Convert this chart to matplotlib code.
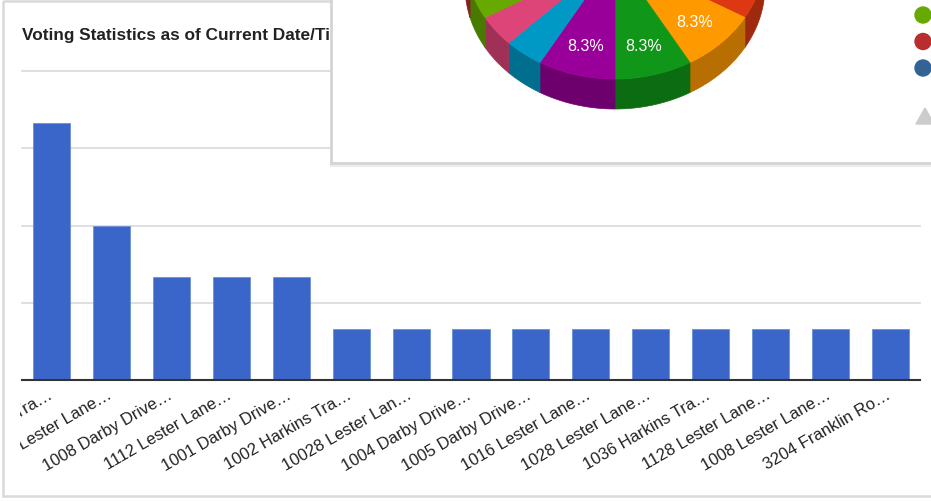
import matplotlib.pyplot as plt
import numpy as np
from matplotlib import transforms
from matplotlib.colors import to_rgb
from matplotlib.patches import Polygon, Rectangle, Circle

W, H = 931, 502

# data
addresses = ["1040 Harkins Tra…", "1020 Lester Lane…", "1008 Darby Drive…",
             "1112 Lester Lane…", "1001 Darby Drive…", "1002 Harkins Tra…",
             "10028 Lester Lan…", "1004 Darby Drive…", "1005 Darby Drive…",
             "1016 Lester Lane…", "1028 Lester Lane…", "1036 Harkins Tra…",
             "1128 Lester Lane…", "1008 Lester Lane…", "3204 Franklin Ro…"]
votes = [5, 3, 2, 2, 2, 1, 1, 1, 1, 1, 1, 1, 1, 1, 1]
y_ticks = [0, 1.5, 3, 4.5, 6]
pie_colors = ['#3366cc', '#dc3912', '#ff9900', '#109618', '#990099', '#0099c6',
              '#dd4477', '#66aa00', '#b82e2e', '#316395', '#994499', '#22aa99',
              '#aaaa11', '#6633cc', '#e67300']
legend_colors = pie_colors[7:10]

plt.rcParams['font.family'] = ['Liberation Sans', 'DejaVu Sans']
fig = plt.figure(figsize=(W / 100, H / 100), dpi=100)


def pixel_axes(z):
    a = fig.add_axes([0, 0, 1, 1], zorder=z)
    a.set_xlim(0, W)
    a.set_ylim(H, 0)
    a.axis('off')
    return a


# background card + title
bg = pixel_axes(0)
bg.add_patch(Rectangle((3, 2), 1000, 495, fill=False, ec='#d9d9d9', lw=1.8))
bg.text(22, 35.5, 'Voting Statistics as of Current Date/Time', fontsize=12.4,
        fontweight='bold', color='#222222', va='center')

# bar chart
ax = fig.add_axes([22 / W, (H - 381) / H, 898 / W, 309 / H], zorder=1)
ax.patch.set_alpha(0)
x = np.arange(len(votes))
ax.bar(x, votes, width=0.62, color='#3b66c9', edgecolor='#6d8fd9',
       linewidth=0.6, zorder=2)
ax.set_xlim(-0.5, len(votes) - 0.5)
ax.set_ylim(0, 6)
ax.set_yticks(y_ticks)
ax.yaxis.grid(True, color='#d9d9d9', lw=1.2)
for gl in ax.get_ygridlines():
    gl.set_clip_on(False)
ax.set_axisbelow(True)
for s in ['top', 'right', 'left']:
    ax.spines[s].set_visible(False)
ax.spines['bottom'].set_color('#333333')
ax.spines['bottom'].set_linewidth(1.5)
ax.spines['bottom'].set_zorder(3)
ax.tick_params(length=0, labelleft=False, labelbottom=False)

clip_box = transforms.TransformedBbox(
    transforms.Bbox.from_extents(20 / W, 0, 1, 1), fig.transFigure)
label_tr = transforms.offset_copy(ax.get_xaxis_transform(), fig=fig,
                                  x=-1, y=-13, units='dots')
for i, lab in enumerate(addresses):
    t = ax.text(i, 0, lab, transform=label_tr, rotation=30,
                rotation_mode='anchor', ha='right', va='center',
                fontsize=12, color='#222222')
    t.set_clip_box(clip_box)
    t.set_clip_on(True)

# pie chart card on top
ov = pixel_axes(2)
ov.add_patch(Rectangle((331, -20), 700, 184, fc='white', ec='#d4d4d4', lw=2))
ov.plot([331, W], [166.5, 166.5], color='#ededed', lw=1.5)

cx, cy, rx, ry, depth = 615, -43, 150, 123, 30


def arc(t0, t1, dy=0):
    th = np.linspace(t0, t1, 80)
    return np.column_stack([cx + rx * np.sin(th), cy - ry * np.cos(th) + dy])


frac = np.array(votes) / sum(votes)
edges = np.concatenate([[0], np.cumsum(frac)]) * 2 * np.pi
# front side walls
for i, col in enumerate(pie_colors):
    s0 = max(edges[i], np.pi / 2)
    s1 = min(edges[i + 1], 3 * np.pi / 2)
    if s1 > s0:
        side = np.vstack([arc(s0, s1), arc(s1, s0, depth)])
        dark = tuple(c * 0.72 for c in to_rgb(col))
        ov.add_patch(Polygon(side, fc=dark, ec=dark, lw=0.5))
# top faces
for i, col in enumerate(pie_colors):
    top = np.vstack([[cx, cy], arc(edges[i], edges[i + 1])])
    ov.add_patch(Polygon(top, fc=col, ec=col, lw=0.5))
    if frac[i] >= 0.08:
        mid = (edges[i] + edges[i + 1]) / 2
        ov.text(cx + 0.75 * rx * np.sin(mid), cy - 0.75 * ry * np.cos(mid),
                f'{frac[i] * 100:.1f}%', color='white', fontsize=11.5,
                ha='center', va='center')

# paged legend (only markers visible)
for k, col in enumerate(legend_colors):
    ov.add_patch(Circle((923, 16 + 26.5 * k), 8, color=col))
ov.add_patch(Polygon([[916, 125], [925, 109], [934, 125]], color='#cccccc'))

fig.savefig('out.png', dpi=100)
